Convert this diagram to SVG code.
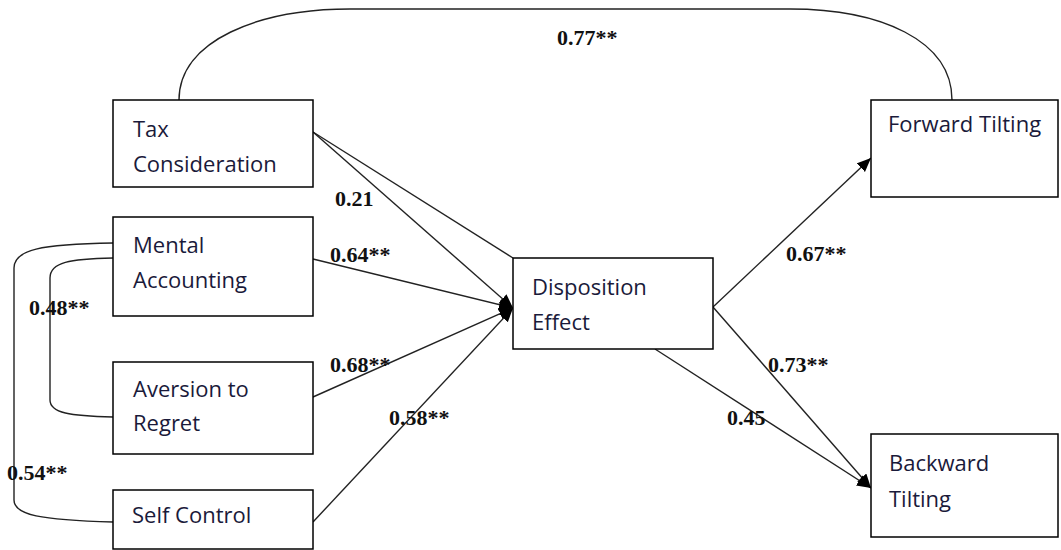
<svg xmlns="http://www.w3.org/2000/svg" width="1061" height="550" viewBox="0 0 1061 550">
<style>
.box{fill:#fff;stroke:#000;stroke-width:1.5}
.lbl{font-family:"Open Sans","Liberation Sans",sans-serif;font-size:22px;fill:#1a1a3a}
.coef{font-family:"Liberation Serif","Times New Roman",serif;font-size:22px;font-weight:bold;fill:#111}
.ln{fill:none;stroke:#222;stroke-width:1.4}
</style>
<defs>
<marker id="ah" markerUnits="userSpaceOnUse" markerWidth="16" markerHeight="14" refX="14" refY="6" orient="auto">
<path d="M0,0 L14,6 L0,12 Z" fill="#000"/>
</marker>
</defs>
<rect width="1061" height="550" fill="#fff"/>
<g id="connectors">
<path class="ln" d="M179,100 C179,40 260,9 350,9 L790,9 C880,9 952,40 952,100"/>
<line class="ln" x1="313" y1="132" x2="513" y2="258"/>
<line class="ln" x1="313" y1="132" x2="513" y2="308" marker-end="url(#ah)"/>
<line class="ln" x1="313" y1="259" x2="513" y2="308" marker-end="url(#ah)"/>
<line class="ln" x1="313" y1="397" x2="513" y2="308" marker-end="url(#ah)"/>
<line class="ln" x1="313" y1="522" x2="513" y2="308" marker-end="url(#ah)"/>
<line class="ln" x1="713" y1="307" x2="871" y2="158" marker-end="url(#ah)"/>
<line class="ln" x1="713" y1="307" x2="871" y2="488" marker-end="url(#ah)"/>
<line class="ln" x1="655" y1="349" x2="871" y2="488" marker-end="url(#ah)"/>
<path class="ln" d="M113,258 C70,259 50,262 50,278 L50,400 C50,413 70,416 113,417"/>
<path class="ln" d="M113,243 C40,244 14,250 14,268 L14,500 C14,515 40,520 113,522"/>
</g>
<g id="tax">
<rect class="box" x="113" y="100" width="200" height="87"/>
<text class="lbl" x="133" y="137">Tax</text>
<text class="lbl" x="133" y="172">Consideration</text>
</g>
<g id="mental">
<rect class="box" x="113" y="217" width="200" height="99"/>
<text class="lbl" x="133" y="253">Mental</text>
<text class="lbl" x="133" y="288">Accounting</text>
</g>
<g id="aversion">
<rect class="box" x="113" y="362" width="200" height="92"/>
<text class="lbl" x="133" y="397">Aversion to</text>
<text class="lbl" x="133" y="431">Regret</text>
</g>
<g id="selfcontrol">
<rect class="box" x="113" y="490" width="200" height="59"/>
<text class="lbl" x="132" y="523">Self Control</text>
</g>
<g id="disposition">
<rect class="box" x="513" y="258" width="200" height="91"/>
<text class="lbl" x="532" y="295">Disposition</text>
<text class="lbl" x="532" y="330">Effect</text>
</g>
<g id="forward">
<rect class="box" x="871" y="100" width="187" height="97"/>
<text class="lbl" x="888" y="132">Forward Tilting</text>
</g>
<g id="backward">
<rect class="box" x="871" y="434" width="187" height="103"/>
<text class="lbl" x="889" y="471">Backward</text>
<text class="lbl" x="889" y="507">Tilting</text>
</g>
<g id="coefficients">
<text class="coef" x="557" y="45">0.77**</text>
<text class="coef" x="335" y="206">0.21</text>
<text class="coef" x="330" y="262">0.64**</text>
<text class="coef" x="330" y="372">0.68**</text>
<text class="coef" x="389" y="425">0.58**</text>
<text class="coef" x="29" y="315">0.48**</text>
<text class="coef" x="7" y="480">0.54**</text>
<text class="coef" x="786" y="261">0.67**</text>
<text class="coef" x="768" y="372">0.73**</text>
<text class="coef" x="727" y="425">0.45</text>
</g>
</svg>
